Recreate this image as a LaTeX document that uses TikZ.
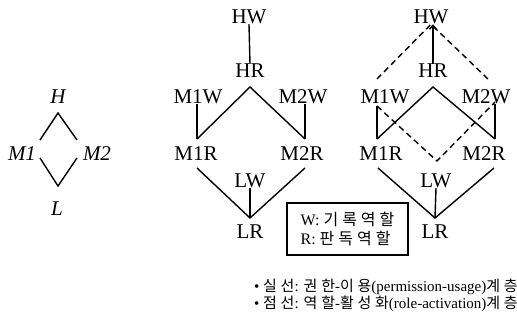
\documentclass[tikz,border=0pt]{standalone}
\usepackage{fontspec}
\setmainfont{Liberation Serif}
\newfontfamily\kr{Noto Sans CJK KR}[LetterSpace=25]
\usetikzlibrary{arrows.meta}
\begin{document}
\begin{tikzpicture}[x=1pt,y=-1pt,
  lab/.style={font=\fontsize{21}{21}\selectfont, inner sep=0pt},
  ilab/.style={font=\fontsize{21}{21}\selectfont\itshape, inner sep=0pt},
  ln/.style={line width=1.4pt},
  dsh/.style={line width=1.4pt, dash pattern=on 6pt off 4pt},
  note/.style={font=\fontsize{15}{15}\selectfont, anchor=west, inner sep=0pt}]
\useasboundingbox (0,0) rectangle (517,320);

% ---- left diamond ----
\node[ilab] (H) at (58,97) {H};
\node[ilab] (M1) at (22,154) {M1};
\node[ilab] (M2) at (97,154) {M2};
\node[ilab] (L) at (57,209) {L};
\coordinate (dT) at (58,113);
\coordinate (dLu) at (40,140);
\coordinate (dRu) at (77,140);
\coordinate (dLd) at (40,158);
\coordinate (dRd) at (77,158);
\coordinate (dB) at (58,186);
\draw[ln] (dLu) -- (dT) -- (dRu);
\draw[ln] (dLd) -- (dB) -- (dRd);

% ---- middle lattice ----
\node[lab] (aHW) at (249,17) {HW};
\node[lab] (aHR) at (250,71) {HR};
\node[lab] (aM1W) at (198,97) {M1W};
\node[lab] (aM2W) at (303,97) {M2W};
\node[lab] (aM1R) at (196,154) {M1R};
\node[lab] (aM2R) at (302,154) {M2R};
\node[lab] (aLW) at (250,181) {LW};
\node[lab] (aLR) at (250,232) {LR};
\coordinate (aHRb) at (250,87);
\coordinate (aM1Rt) at (197,139);
\coordinate (aM2Rt) at (305,139);
\coordinate (aM1Rb) at (197,168);
\coordinate (aM2Rb) at (305,168);
\coordinate (aLRt) at (250,218);
\draw[ln] (aHW.south) -- (aHR.north);
\draw[ln] (aM1Rt) -- (aHRb) -- (aM2Rt);
\draw[ln] (aM1W.south -| aM1Rt) -- (aM1Rt);
\draw[ln] (aM2W.south -| aM2Rt) -- (aM2Rt);
\draw[ln] (aM1Rb) -- (aLRt) -- (aM2Rb);
\draw[ln] (aLW.south) -- (aLRt);

% ---- right lattice ----
\node[lab] (bHW) at (431,17) {HW};
\node[lab] (bHR) at (433,71) {HR};
\node[lab] (bM1W) at (385,97) {M1W};
\node[lab] (bM2W) at (486,97) {M2W};
\node[lab] (bM1R) at (381,154) {M1R};
\node[lab] (bM2R) at (484,154) {M2R};
\node[lab] (bLW) at (436,181) {LW};
\node[lab] (bLR) at (435,232) {LR};
\coordinate (bHRb) at (433,87);
\coordinate (bM1Rt) at (377,139);
\coordinate (bM2Rt) at (495,139);
\coordinate (bM1Rb) at (378,168);
\coordinate (bM2Rb) at (494,168);
\coordinate (bLRt) at (435,218);
\coordinate (bM1Wt) at (377,79);
\coordinate (bM2Wt) at (488,79);
\coordinate (bM1Wb) at (377,106);
\coordinate (bM2Wb) at (495,102);
\coordinate (bLWt) at (437,161);
\draw[ln, -{Straight Barb[length=4pt,width=7pt]}] (bHR.north) -- (bHW.south -| bHR.north);
\draw[ln] (bM1Rt) -- (bHRb) -- (bM2Rt);
\draw[ln] (bM1Wb) -- (bM1Rt);
\draw[ln] (bM2W.south -| bM2Rt) -- (bM2Rt);
\draw[ln] (bM1Rb) -- (bLRt) -- (bM2Rb);
\draw[ln] (bLW.south) -- (bLRt);
\draw[dsh] (bM1Wt) -- (bHW.south) -- (bM2Wt);
\draw[dsh] (bM1Wb) -- (bLWt) -- (bM2Wb);

% ---- legend ----
\node[draw, line width=1.1pt, minimum width=121pt, minimum height=52pt,
      align=left, font=\fontsize{16}{19}\selectfont] (leg) at (347.5,229)
      {W: {\kr 기록역할}\\R: {\kr 판독역할}};

% ---- notes ----
\node[note] (n1) at (254,287) {• {\kr 실선}: {\kr 권한}-{\kr 이용}(permission-usage){\kr 계층}};
\node[note] (n2) at (254,304) {• {\kr 점선}: {\kr 역할}-{\kr 활성화}(role-activation){\kr 계층}};
\end{tikzpicture}
\end{document}
